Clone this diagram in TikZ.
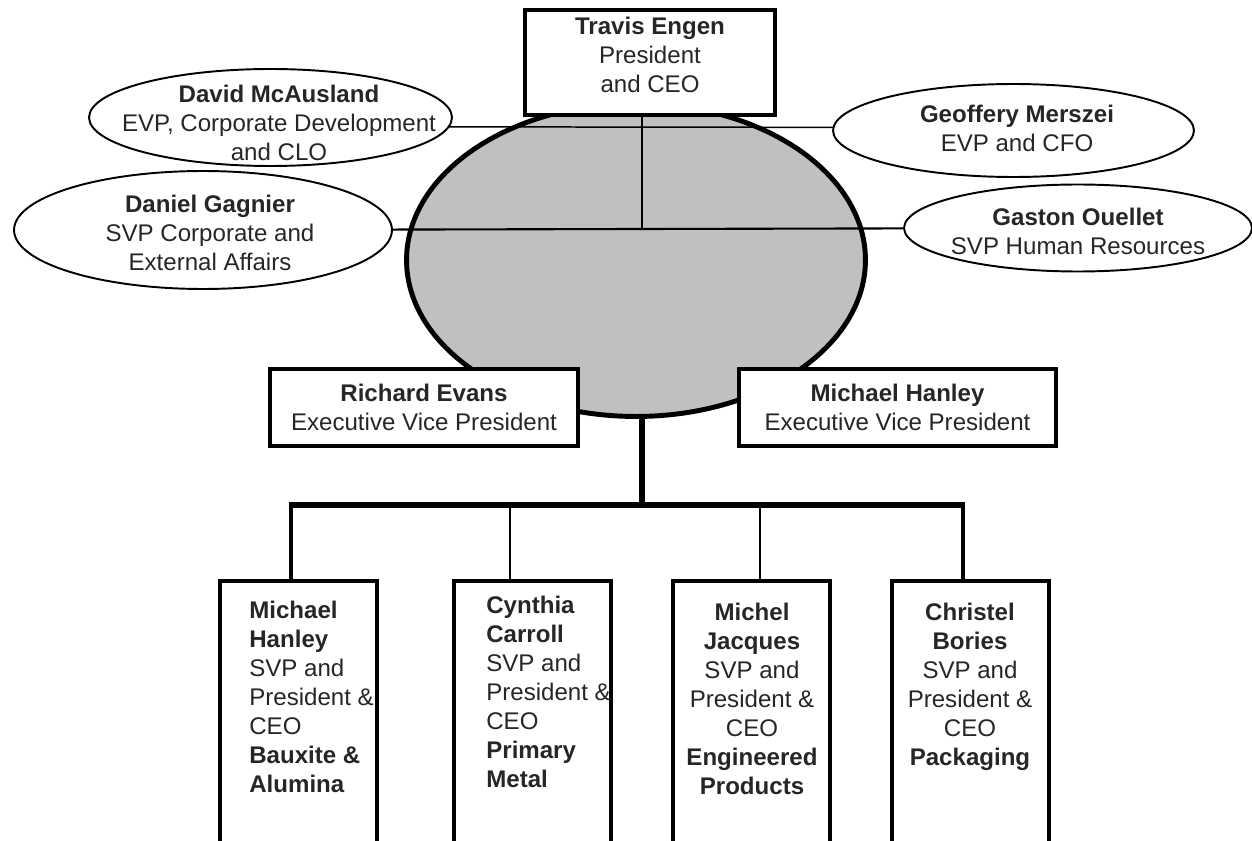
\documentclass[tikz,border=0pt]{standalone}
\usepackage{fontspec}
\setmainfont{Liberation Sans}
\usepackage{tikz}
\usetikzlibrary{shapes.geometric}
\definecolor{corefill}{RGB}{192,192,192}
\definecolor{inkline}{RGB}{0,0,0}

\begin{document}
\begin{tikzpicture}[x=0.02cm, y=-0.02cm,
    every node/.style={font=\fontsize{13.7pt}{16.5pt}\selectfont, text=black!85},
    box/.style={draw=inkline, rectangle, fill=white, line width=2.2pt, inner sep=0pt, outer sep=0pt, align=center},
    oval/.style={draw=inkline, ellipse, fill=white, line width=1.1pt, inner sep=0pt, outer sep=0pt},
    unitbox/.style={draw=inkline, rectangle, line width=1.9pt, inner sep=0pt, outer sep=0pt, minimum width=3.14cm, minimum height=6cm, anchor=north},
    who/.style={inner sep=0pt, align=center},
    link/.style={draw=inkline, line width=0.85pt},
    bus/.style={draw=inkline, line width=3.6pt},
    feed/.style={draw=inkline, line width=2pt}]

  \clip (0,0) rectangle (1252,841);

  % Office of the president
  \node[draw=inkline, ellipse, fill=corefill, line width=2.8pt, inner sep=0pt, outer sep=0pt,
        minimum width=9.18cm, minimum height=6.26cm] (core) at (636,260) {};

  % Staff ovals
  \node[oval, minimum width=7.26cm, minimum height=1.94cm] (david) at (270.5,117.5) {};
  \node[who] (david-t) at (279,123) {\textbf{David McAusland}\\EVP, Corporate Development\\and CLO};
  \node[oval, minimum width=7.22cm, minimum height=1.86cm] (geoffery) at (1013.5,130.5) {};
  \node[who] (geoffery-t) at (1017,128) {\textbf{Geoffery Merszei}\\EVP and CFO};
  \node[oval, minimum width=7.56cm, minimum height=2.36cm] (daniel) at (203,230) {};
  \node[who] (daniel-t) at (210,233) {\textbf{Daniel Gagnier}\\SVP Corporate and\\External Affairs};
  \node[oval, minimum width=6.96cm, minimum height=1.74cm] (gaston) at (1078,228) {};
  \node[who] (gaston-t) at (1078,231) {\textbf{Gaston Ouellet}\\SVP Human Resources};

  % Executive boxes
  \node[box, minimum width=5.0cm, minimum height=2.1cm, text depth=0.32cm] (travis) at (650,62.5)
    {\textbf{Travis Engen}\\President\\and CEO};
  \node[box, minimum width=6.16cm, minimum height=1.54cm] (evans) at (424,407.5)
    {\textbf{Richard Evans}\\Executive Vice President};
  \node[box, minimum width=6.34cm, minimum height=1.54cm] (hanley) at (897.5,407.5)
    {\textbf{Michael Hanley}\\Executive Vice President};

  % Staff lines
  \coordinate (axis) at (642,229);
  \draw[link] (david.-3) -- (geoffery.179);
  \draw[link, line width=1.2pt] (daniel) -- (gaston);
  \draw[draw=inkline, line width=1.7pt] (travis.south -| axis) -- (axis);

  % Business units
  \node[unitbox] (bauxite) at (298.5,581) {};
  \node[unitbox] (primary) at (532.5,581) {};
  \node[unitbox] (engineered) at (751.5,581) {};
  \node[unitbox] (packaging) at (970.5,581) {};

  \node[who, align=left, anchor=north west] (bauxite-t) at (249,601)
    {\textbf{Michael}\\\textbf{Hanley}\\SVP and\\President \&\\CEO\\\textbf{Bauxite \&}\\\textbf{Alumina}};
  \node[who, align=left, anchor=north west] (primary-t) at (486,596)
    {\textbf{Cynthia}\\\textbf{Carroll}\\SVP and\\President \&\\CEO\\\textbf{Primary}\\\textbf{Metal}};
  \node[who, anchor=north] (engineered-t) at (752,603)
    {\textbf{Michel}\\\textbf{Jacques}\\SVP and\\President \&\\CEO\\\textbf{Engineered}\\\textbf{Products}};
  \node[who, anchor=north] (packaging-t) at (970,603)
    {\textbf{Christel}\\\textbf{Bories}\\SVP and\\President \&\\CEO\\\textbf{Packaging}};

  % Reporting bus
  \coordinate (stem) at (642,505);
  \coordinate (barL) at (291,505);
  \coordinate (barR) at (963,505);
  \coordinate (tapB) at (510,505);
  \coordinate (tapC) at (760,505);
  \draw[bus] (core.south -| stem) -- (stem);
  \draw[feed] (barL) -- (barL |- bauxite.north);
  \draw[feed] (barR) -- (barR |- packaging.north);
  \draw[link] (tapB) -- (tapB |- primary.north);
  \draw[link] (tapC) -- (tapC |- engineered.north);
  \draw[bus] ([xshift=-1pt]barL) -- ([xshift=1pt]barR);

\end{tikzpicture}
\end{document}
